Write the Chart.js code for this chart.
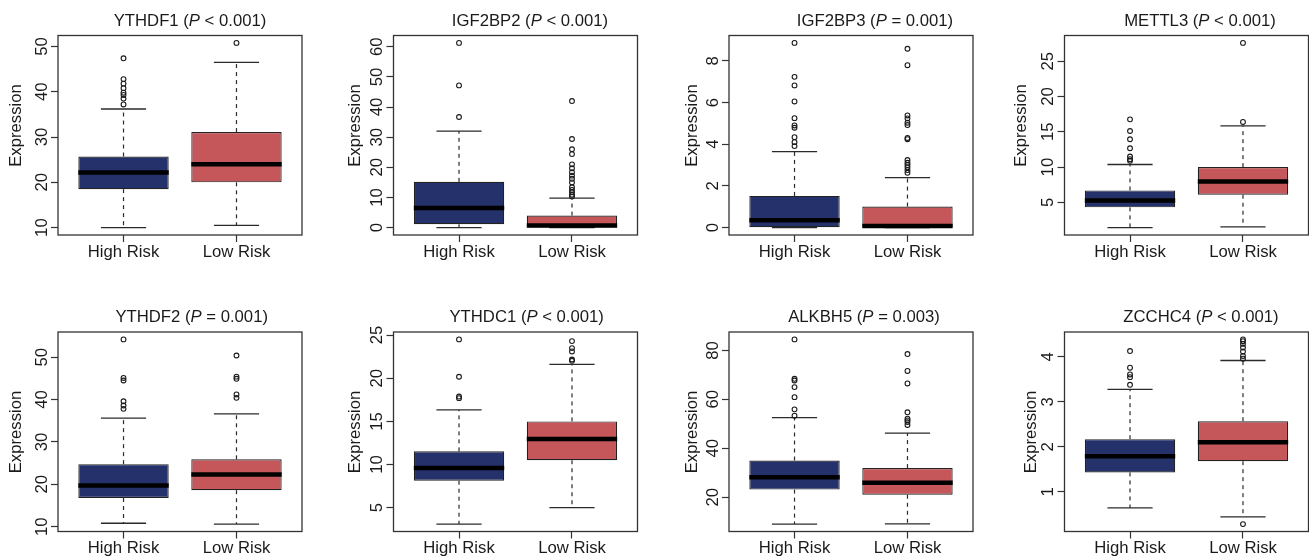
<!DOCTYPE html>
<html><head><meta charset="utf-8">
<script src="https://cdn.jsdelivr.net/npm/chart.js@4.4.1/dist/chart.umd.min.js"></script>
<style>
html,body{margin:0;padding:0;background:#fff;overflow:hidden;width:1309px;height:556px;position:relative;}
canvas{position:absolute;}
</style></head><body>
<script>
// ---------------- DATA ----------------
const genes = ['YTHDF1','IGF2BP2','IGF2BP3','METTL3','YTHDF2','YTHDC1','ALKBH5','ZCCHC4'];
const pLabels = ['< 0.001','< 0.001','= 0.001','< 0.001','= 0.001','< 0.001','= 0.003','< 0.001'];
const groups = ['High Risk','Low Risk'];
// [lower whisker, Q1, median, Q3, upper whisker]
const highRiskStats = [
  [10.0, 18.5, 22.2, 25.7, 36.2],
  [0.0, 1.1, 6.5, 15.2, 32.0],
  [0.0, 0.02, 0.35, 1.52, 3.64],
  [1.43, 4.3, 5.28, 6.7, 10.37],
  [10.8, 16.75, 19.7, 24.75, 35.6],
  [3.1, 8.13, 9.6, 11.53, 16.34],
  [9.0, 23.1, 28.2, 35.0, 52.5],
  [0.64, 1.43, 1.79, 2.17, 3.28]
];
const lowRiskStats = [
  [10.5, 20.0, 24.0, 31.1, 46.5],
  [0.0, 0.05, 0.7, 4.0, 9.8],
  [0.0, 0.0, 0.08, 1.01, 2.4],
  [1.53, 6.09, 7.97, 10.0, 15.83],
  [10.6, 18.6, 22.3, 25.9, 36.6],
  [5.0, 10.5, 12.97, 15.0, 21.6],
  [9.1, 21.0, 25.9, 31.9, 46.2],
  [0.44, 1.68, 2.1, 2.57, 3.92]
];
const highRiskOutliers = [
  [47.4, 42.8, 41.8, 40.8, 39.8, 39.3, 38.5, 37.2],
  [61.3, 47.2, 36.7],
  [8.86, 7.23, 6.82, 6.05, 5.25, 4.9, 4.79, 4.34, 4.1, 3.91],
  [16.77, 15.12, 13.95, 12.67, 11.5, 11.13, 10.9],
  [54.2, 45.1, 44.5, 39.6, 38.6, 37.8],
  [24.5, 20.17, 17.88, 17.69],
  [84.5, 68.4, 67.7, 65.0, 60.9, 55.9, 53.3],
  [4.13, 3.76, 3.61, 3.55, 3.38]
];
const lowRiskOutliers = [
  [50.8],
  [42.0, 29.4, 26.0, 24.4, 21.0, 19.7, 18.4, 17.25, 16.2, 15.0, 13.4, 12.5, 11.7, 10.9, 10.3],
  [8.58, 7.79, 5.38, 5.24, 5.03, 4.92, 4.3, 4.24, 3.24, 3.11, 3.0, 2.89, 2.76, 2.63],
  [27.6, 16.4],
  [50.4, 45.4, 44.9, 41.2, 40.4],
  [24.3, 23.49, 23.1, 22.17, 22.02],
  [78.5, 71.6, 66.5, 54.7, 52.1, 51.4, 50.7, 49.5],
  [4.39, 4.35, 4.29, 4.21, 4.12, 4.02, 3.96, 0.28]
];
const yTicks = [
  [10, 20, 30, 40, 50],
  [0, 10, 20, 30, 40, 50, 60],
  [0, 2, 4, 6, 8],
  [5, 10, 15, 20, 25],
  [10, 20, 30, 40, 50],
  [5, 10, 15, 20, 25],
  [20, 40, 60, 80],
  [1, 2, 3, 4]
];
const yAxisTitle = 'Expression';

// ---------------- STYLE / LAYOUT ----------------
const FONT = '"Liberation Sans", Arial, Helvetica, sans-serif';
const FS = 16.7;
const TXT = '#1a1a1a';
const BOX_COLORS = ['#25316a', '#c5575a'];
const PLOT_LEFT = [58, 393.5, 729, 1064.5];
const PLOT_TOP = [35.5, 332];
const PLOT_W = 244, PLOT_H = 199.5;
const CANVAS_TOP = [0, 296];
const CANVAS_H = [296, 260];
const CANVAS_W = 335;
const TITLE_DX = [132, 136.5, 146, 135.5, 133.7, 133.2, 135, 136.5];
const YLAB_DX = [-36.7, -33.5, -32.3, -38.3, -36.7, -33.5, -32.3, -28.3];
const YLAB_DY = [90, 100];

genes.forEach((gene, i) => {
  const col = i % 4, row = Math.floor(i / 4);
  const cLeft = Math.floor(PLOT_LEFT[col] - 58);
  const cTop = CANVAS_TOP[row], cH = CANVAS_H[row];
  const canvas = document.createElement('canvas');
  canvas.width = CANVAS_W; canvas.height = cH;
  canvas.style.left = cLeft + 'px'; canvas.style.top = cTop + 'px';
  canvas.style.width = CANVAS_W + 'px'; canvas.style.height = cH + 'px';
  document.body.appendChild(canvas);

  const padL = PLOT_LEFT[col] - cLeft;
  const padT = PLOT_TOP[row] - cTop;
  const xAxisH = cH - (padT + PLOT_H);
  const padR = CANVAS_W - padL - PLOT_W;

  const stats = [highRiskStats[i], lowRiskStats[i]];
  const outs = [highRiskOutliers[i], lowRiskOutliers[i]];
  const all = stats.flat().concat(outs.flat());
  const lo = Math.min(...all), hi = Math.max(...all), ext = (hi - lo) * 0.04;

  const datasets = [];
  stats.forEach((s, g) => {
    const x = g + 1;
    const lineBase = {type: 'line', borderColor: '#2a2a2a', borderWidth: 1.2, pointRadius: 0, fill: false, tension: 0, order: 4};
    datasets.push(Object.assign({}, lineBase, {data: [{x: x, y: s[3]}, {x: x, y: s[4]}], borderDash: [4, 4]}));
    datasets.push(Object.assign({}, lineBase, {data: [{x: x, y: s[1]}, {x: x, y: s[0]}], borderDash: [4, 4]}));
    datasets.push(Object.assign({}, lineBase, {data: [{x: x - 0.2, y: s[4]}, {x: x + 0.2, y: s[4]}], borderWidth: 1.3}));
    datasets.push(Object.assign({}, lineBase, {data: [{x: x - 0.2, y: s[0]}, {x: x + 0.2, y: s[0]}], borderWidth: 1.3}));
  });
  datasets.push({
    type: 'bar',
    data: stats.map((s, g) => ({x: g + 1, y: [s[1], s[3]]})),
    backgroundColor: BOX_COLORS, borderColor: '#222', borderWidth: 1.2, borderSkipped: false,
    categoryPercentage: 1, barPercentage: 0.8, order: 3
  });
  stats.forEach((s, g) => {
    datasets.push({type: 'line', data: [{x: g + 0.6, y: s[2]}, {x: g + 1.4, y: s[2]}],
      borderColor: '#000', borderWidth: 4.5, borderCapStyle: 'butt', pointRadius: 0, order: 2});
  });
  outs.forEach((o, g) => {
    datasets.push({type: 'line', showLine: false, data: o.map(v => ({x: g + 1, y: v})),
      pointRadius: 2.4, pointBackgroundColor: 'rgba(0,0,0,0)', pointBorderColor: '#1a1a1a',
      pointBorderWidth: 1.1, order: 1});
  });

  const decor = {
    id: 'rdecor',
    afterDraw(chart) {
      const ctx = chart.ctx, a = chart.chartArea;
      ctx.save();
      // plot frame
      ctx.strokeStyle = '#333'; ctx.lineWidth = 1.3;
      ctx.strokeRect(a.left, a.top, a.right - a.left, a.bottom - a.top);
      ctx.fillStyle = TXT;
      // y tick labels rotated
      ctx.font = FS + 'px ' + FONT;
      ctx.textAlign = 'center'; ctx.textBaseline = 'alphabetic';
      const ys = chart.scales.y;
      ys.ticks.forEach(t => {
        const py = ys.getPixelForValue(t.value);
        ctx.save(); ctx.translate(a.left - 11.5, py); ctx.rotate(-Math.PI / 2);
        ctx.fillText(String(t.value), 0, 0); ctx.restore();
      });
      // y axis title
      ctx.save(); ctx.translate(a.left + YLAB_DX[i], a.top + YLAB_DY[row]); ctx.rotate(-Math.PI / 2);
      ctx.fillText(yAxisTitle, 0, 0); ctx.restore();
      // title with italic P
      const parts = [[gene + ' (', false], ['P', true], [' ' + pLabels[i] + ')', false]];
      let total = 0;
      parts.forEach(p => { ctx.font = (p[1] ? 'italic ' : '') + FS + 'px ' + FONT; p.push(ctx.measureText(p[0]).width); total += p[2]; });
      let x = a.left + TITLE_DX[i] - total / 2;
      ctx.textAlign = 'left';
      parts.forEach(p => { ctx.font = (p[1] ? 'italic ' : '') + FS + 'px ' + FONT; ctx.fillText(p[0], x, a.top - 10); x += p[2]; });
      ctx.restore();
    }
  };

  new Chart(canvas, {
    type: 'bar',
    data: {datasets},
    options: {
      responsive: false, animation: false, devicePixelRatio: 1, events: [],
      layout: {padding: {left: 0, top: padT, right: padR, bottom: 0}},
      plugins: {legend: {display: false}, tooltip: {enabled: false}, title: {display: false}},
      scales: {
        x: {
          type: 'linear', min: 0.42, max: 2.58, bounds: 'data', offset: false,
          afterBuildTicks: s => { s.ticks = groups.map((_, g) => ({value: g + 1})); },
          afterFit: s => { s.height = xAxisH; },
          grid: {drawOnChartArea: false, drawTicks: true, tickLength: 7, tickColor: '#333', tickWidth: 1.2, offset: false},
          border: {display: false},
          ticks: {autoSkip: false, maxRotation: 0, minRotation: 0, padding: 0, color: TXT,
            font: {family: FONT, size: FS}, callback: v => groups[Math.round(v) - 1]}
        },
        y: {
          type: 'linear', min: lo - ext, max: hi + ext, bounds: 'data',
          afterBuildTicks: s => { s.ticks = yTicks[i].map(v => ({value: v})); },
          afterFit: s => { s.width = padL; },
          grid: {drawOnChartArea: false, drawTicks: true, tickLength: 7, tickColor: '#333', tickWidth: 1.2},
          border: {display: false},
          ticks: {display: false, autoSkip: false}
        }
      }
    },
    plugins: [decor]
  });
});
</script>
</body></html>
